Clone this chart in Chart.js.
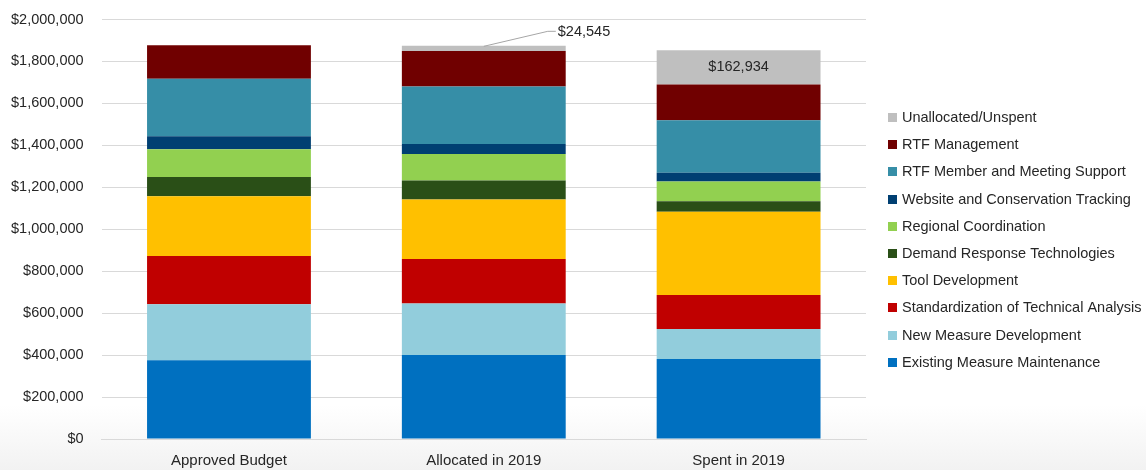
<!DOCTYPE html>
<html>
<head>
<meta charset="utf-8">
<script src="https://cdn.jsdelivr.net/npm/chart.js@4"></script>
<style>
  html, body { margin: 0; padding: 0; }
  body {
    width: 1146px; height: 470px; overflow: hidden;
    background: linear-gradient(to bottom, #ffffff 0px, #ffffff 405px, #f2f2f2 470px);
  }
  #wrap { position: relative; width: 1146px; height: 470px; }
  canvas { display: block; }
</style>
</head>
<body>
<div id="wrap"><canvas id="budget-chart" width="1146" height="470"></canvas></div>
<script>
const categories = ['Approved Budget', 'Allocated in 2019', 'Spent in 2019'];

const seriesNames = [
  'Existing Measure Maintenance',
  'New Measure Development',
  'Standardization of Technical Analysis',
  'Tool Development',
  'Demand Response Technologies',
  'Regional Coordination',
  'Website and Conservation Tracking',
  'RTF Member and Meeting Support',
  'RTF Management',
  'Unallocated/Unspent'
];

const existingMaintenance = [375000, 401000, 381000];
const newMeasureDev = [267000, 245000, 143000];
const standardization = [231000, 212000, 162000];
const toolDev = [284000, 284000, 397000];
const demandResponse = [92000, 90000, 51000];
const regionalCoord = [132000, 127000, 94000];
const websiteTracking = [62000, 48000, 41000];
const memberSupport = [275000, 273000, 251000];
const rtfManagement = [159000, 170000, 170000];
const unallocated = [0, 24545, 162934];

const seriesColors = [
  '#0070C0', '#92CDDC', '#C00000', '#FFC000', '#2A4F17',
  '#92D050', '#003F72', '#368EA7', '#700000', '#BFBFBF'
];

const yTicks = [0, 200000, 400000, 600000, 800000, 1000000, 1200000, 1400000, 1600000, 1800000, 2000000];

const fontFamily = '"Liberation Sans", Arial, sans-serif';
const textColor = '#262626';

const money = (v) => '$' + Math.round(v).toLocaleString('en-US');

const allSeries = [
  existingMaintenance, newMeasureDev, standardization, toolDev, demandResponse,
  regionalCoord, websiteTracking, memberSupport, rtfManagement, unallocated
];

// labels for the unallocated segments
const unallocatedLabels = {
  id: 'unallocatedLabels',
  afterDatasetsDraw(chart) {
    const ctx = chart.ctx;
    const meta = chart.getDatasetMeta(9);
    ctx.save();
    ctx.font = '14.5px ' + fontFamily;
    ctx.fillStyle = textColor;
    ctx.textBaseline = 'middle';

    // Allocated: thin slice, label outside with leader line
    const a = meta.data[1];
    ctx.strokeStyle = '#a6a6a6';
    ctx.lineWidth = 1;
    ctx.beginPath();
    ctx.moveTo(a.x, a.y + 0.5);
    ctx.lineTo(a.x + 64, a.y - 14.5);
    ctx.lineTo(a.x + 72, a.y - 14.5);
    ctx.stroke();
    ctx.textAlign = 'left';
    ctx.fillText(money(unallocated[1]), a.x + 74, a.y - 14);

    // Spent: label inside the slice
    const s = meta.data[2];
    ctx.textAlign = 'center';
    ctx.fillText(money(unallocated[2]), s.x, (s.y + s.base) / 2);
    ctx.restore();
  }
};

// legend at the right, top item is the last series
const sideLegend = {
  id: 'sideLegend',
  afterDraw(chart) {
    const ctx = chart.ctx;
    const left = chart.chartArea.right + 22;
    const top = 117;
    const step = 27.2;
    ctx.save();
    ctx.font = '14.5px ' + fontFamily;
    ctx.textBaseline = 'middle';
    ctx.textAlign = 'left';
    chart.data.datasets.slice().reverse().forEach((ds, i) => {
      const y = top + i * step;
      ctx.fillStyle = ds.backgroundColor;
      ctx.fillRect(left, Math.round(y - 4), 9, 9);
      ctx.fillStyle = textColor;
      ctx.fillText(ds.label, left + 14, y + 1);
    });
    ctx.restore();
  }
};

const chart = new Chart(document.getElementById('budget-chart'), {
  type: 'bar',
  data: {
    labels: categories,
    datasets: seriesNames.map((name, i) => ({
      label: name,
      data: allSeries[i],
      backgroundColor: seriesColors[i],
      borderWidth: 0,
      barPercentage: 1,
      categoryPercentage: 0.643
    }))
  },
  options: {
    responsive: false,
    animation: false,
    layout: { padding: { left: 1, right: 280, top: 19.5, bottom: -5 } },
    plugins: {
      tooltip: { enabled: false },
      legend: { display: false }
    },
    scales: {
      x: {
        stacked: true,
        grid: { display: false },
        border: { display: true, color: '#d9d9d9' },
        ticks: { color: textColor, font: { family: fontFamily, size: 15 }, padding: 5 }
      },
      y: {
        stacked: true,
        min: 0,
        max: 2000000,
        afterBuildTicks: (axis) => { axis.ticks = yTicks.map(v => ({ value: v })); },
        grid: { color: '#d9d9d9', drawTicks: true, tickLength: 8, tickColor: 'rgba(0,0,0,0)' },
        border: { display: false },
        ticks: {
          color: textColor,
          padding: 10,
          font: { family: fontFamily, size: 14.5 },
          callback: (v) => money(v)
        }
      }
    }
  },
  plugins: [unallocatedLabels, sideLegend]
});
</script>
</body>
</html>
